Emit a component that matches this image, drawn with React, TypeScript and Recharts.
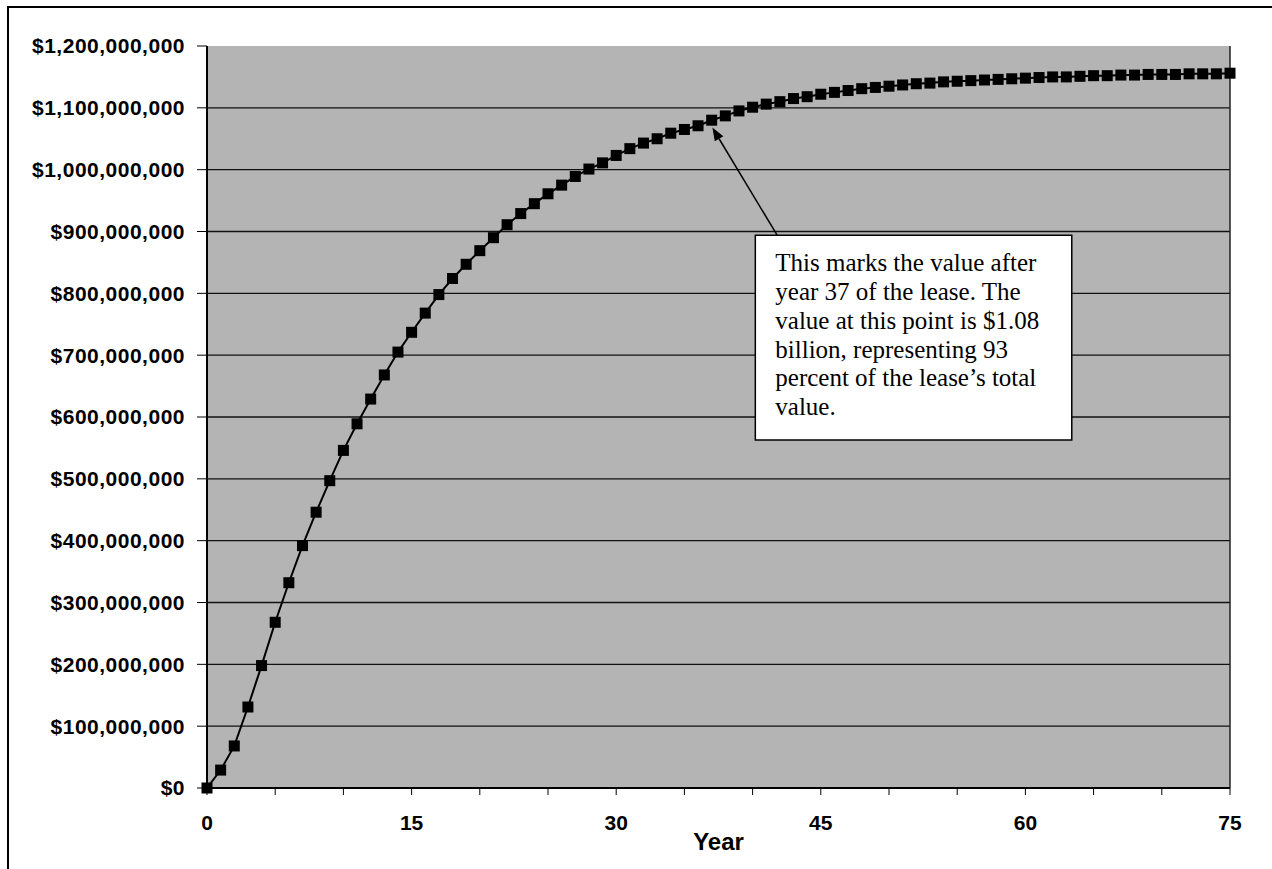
import React from 'react';
import {
  LineChart,
  Line,
  XAxis,
  YAxis,
  CartesianGrid,
  ReferenceLine,
  ReferenceArea,
} from 'recharts';

// year after the lease starts
const years = [
  0, 1, 2, 3, 4, 5, 6, 7, 8, 9,
  10, 11, 12, 13, 14, 15, 16, 17, 18, 19,
  20, 21, 22, 23, 24, 25, 26, 27, 28, 29,
  30, 31, 32, 33, 34, 35, 36, 37, 38, 39,
  40, 41, 42, 43, 44, 45, 46, 47, 48, 49,
  50, 51, 52, 53, 54, 55, 56, 57, 58, 59,
  60, 61, 62, 63, 64, 65, 66, 67, 68, 69,
  70, 71, 72, 73, 74, 75,
];

// cumulative value, in millions of dollars
const valueMillions = [
  0, 29, 68, 131, 198, 268, 332, 392, 446, 497,
  546, 589, 629, 668, 705, 737, 768, 798, 824, 847,
  869, 890, 911, 929, 945, 961, 975, 989, 1001, 1011,
  1023, 1034, 1043, 1050, 1059, 1065, 1071, 1080, 1087, 1095,
  1101, 1106, 1110, 1115, 1118, 1122, 1125, 1128, 1131, 1133,
  1135, 1137, 1139, 1140, 1142, 1143, 1144, 1145, 1146, 1147,
  1148, 1149, 1150, 1150, 1151, 1152, 1152, 1153, 1153, 1154,
  1154, 1154, 1155, 1155, 1155, 1156,
];

const yTickMillions = [0, 100, 200, 300, 400, 500, 600, 700, 800, 900, 1000, 1100, 1200];
const xTicks = [0, 5, 10, 15, 20, 25, 30, 35, 40, 45, 50, 55, 60, 65, 70, 75];
const xLabelYears = [0, 15, 30, 45, 60, 75];

const annotationLines = [
  'This marks the value after',
  'year 37 of the lease. The',
  'value at this point is $1.08',
  'billion, representing 93',
  'percent of the lease\u2019s total',
  'value.',
];

const M = 1000000;
const data = years.map((year, i) => ({ year, value: valueMillions[i] * M }));
const yTicks = yTickMillions.map((v) => v * M);

const axisFont = {
  fill: '#000',
  fontSize: 21,
  fontWeight: 700,
  fontFamily: '"Liberation Sans", Arial, sans-serif',
};

const SquareDot = (props: any) => {
  const { cx, cy, index } = props;
  if (cx == null || cy == null) return null;
  return <rect key={`dot-${index}`} x={cx - 5.5} y={cy - 5.5} width={11} height={11} fill="#000" />;
};

const BoxText = (props: any) => {
  const { viewBox } = props;
  if (!viewBox) return null;
  const { x, y } = viewBox;
  return (
    <text
      x={x + 20}
      y={y + 36}
      fill="#000"
      fontSize={25}
      fontFamily='"Liberation Serif", "Times New Roman", serif'
    >
      {annotationLines.map((line, i) => (
        <tspan key={i} x={x + 20} dy={i === 0 ? 0 : 28.8}>
          {line}
        </tspan>
      ))}
    </text>
  );
};

const Arrow = (props: any) => {
  const { x1, y1, x2, y2 } = props;
  const ang = Math.atan2(y2 - y1, x2 - x1);
  const len = 13;
  const w = 5;
  const bx = x2 - len * Math.cos(ang);
  const by = y2 - len * Math.sin(ang);
  const px = -Math.sin(ang) * w;
  const py = Math.cos(ang) * w;
  return (
    <g>
      <line x1={x1} y1={y1} x2={bx} y2={by} stroke="#000" strokeWidth={1.5} />
      <polygon points={`${x2},${y2} ${bx + px},${by + py} ${bx - px},${by - py}`} fill="#000" />
    </g>
  );
};

const App: React.FC = () => {
  return (
    <div
      style={{
        position: 'absolute',
        left: 7,
        top: 6,
        width: 1265,
        height: 863,
        borderLeft: '2px solid #000',
        borderTop: '2px solid #000',
        background: '#fff',
        overflow: 'hidden',
      }}
    >
      <LineChart
        width={1263}
        height={861}
        data={data}
        margin={{ top: 38, right: 42, left: 48, bottom: 11 }}
      >
        <CartesianGrid
          fill="#b4b4b4"
          fillOpacity={1}
          vertical={false}
          stroke="#111"
          strokeWidth={1.4}
          strokeOpacity={1}
          horizontalValues={yTicks.filter((v) => v > 0 && v < 1200 * M)}
        />
        <XAxis
          dataKey="year"
          type="number"
          domain={[0, 75]}
          ticks={xTicks}
          interval={0}
          tickFormatter={(v: number) => (xLabelYears.includes(v) ? String(v) : '')}
          tick={axisFont}
          tickSize={7}
          tickMargin={20}
          height={70}
          axisLine={{ stroke: '#000', strokeWidth: 2 }}
          tickLine={{ stroke: '#000' }}
          label={{
            value: 'Year',
            position: 'insideBottom',
            offset: 8,
            fill: '#000',
            fontSize: 24,
            fontWeight: 700,
            fontFamily: '"Liberation Sans", Arial, sans-serif',
          }}
        />
        <YAxis
          type="number"
          domain={[0, 1200 * M]}
          ticks={yTicks}
          interval={0}
          width={150}
          tickFormatter={(v: number) => `$${v.toLocaleString('en-US')}`}
          tick={{ ...axisFont, letterSpacing: 0.5 }}
          tickSize={10}
          tickMargin={12}
          axisLine={{ stroke: '#000', strokeWidth: 2 }}
          tickLine={{ stroke: '#000' }}
        />
        <ReferenceLine x={75} stroke="#222" strokeWidth={1.5} />
        <ReferenceArea
          x1={40.2}
          x2={63.4}
          y1={563 * M}
          y2={894 * M}
          fill="#fff"
          fillOpacity={1}
          stroke="#000"
          strokeWidth={1.5}
          strokeOpacity={1}
          label={<BoxText />}
        />
        <ReferenceLine
          segment={[
            { x: 41.8, y: 894 * M },
            { x: 37.05, y: 1068 * M },
          ]}
          shape={Arrow}
        />
        <Line
          type="linear"
          dataKey="value"
          stroke="#000"
          strokeWidth={2}
          dot={SquareDot}
          activeDot={false}
          isAnimationActive={false}
        />
      </LineChart>
    </div>
  );
};

export default App;
